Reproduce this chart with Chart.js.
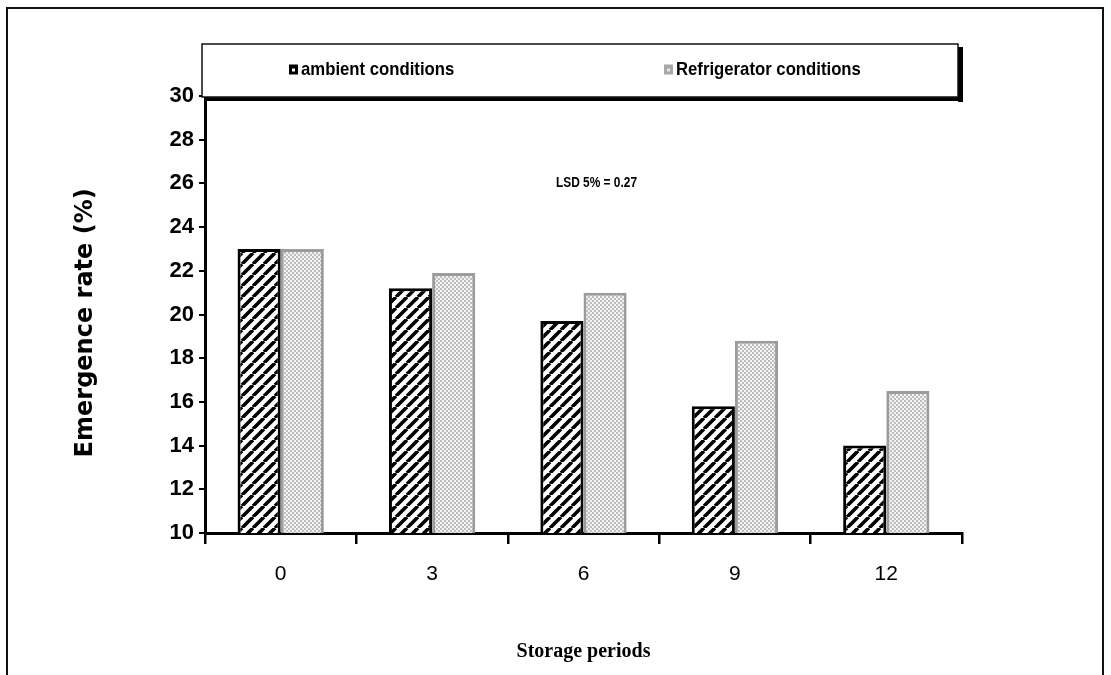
<!DOCTYPE html>
<html>
<head>
<meta charset="utf-8">
<script src="https://cdn.jsdelivr.net/npm/chart.js@4.4.1/dist/chart.umd.min.js"></script>
<style>
  html, body { margin: 0; padding: 0; background: #ffffff; }
  #wrap { width: 1111px; height: 675px; position: relative; }
</style>
</head>
<body>
<div id="wrap"><canvas id="c" width="1111" height="675"></canvas></div>
<script>
// ---- data ----
const categories = ['0', '3', '6', '9', '12'];
const ambientValues = [23.0, 21.2, 19.7, 15.8, 14.0];
const refrigeratorValues = [23.0, 21.9, 21.0, 18.8, 16.5];
const seriesNames = ['ambient conditions', 'Refrigerator conditions'];
const yTicks = [10, 12, 14, 16, 18, 20, 22, 24, 26, 28, 30];
const yTitle = 'Emergence rate (%)  ';
const xTitle = 'Storage periods';
const lsdNote = 'LSD 5% = 0.27';
const lsdLevel = 26;

// ---- patterns ----
function hatchPattern() {
  const s = 11;
  const c = document.createElement('canvas');
  c.width = s; c.height = s;
  const g = c.getContext('2d');
  g.fillStyle = '#ffffff';
  g.fillRect(0, 0, s, s);
  g.strokeStyle = '#000000';
  g.lineWidth = 3.6;
  g.beginPath();
  for (let k = -1; k <= 1; k++) {
    g.moveTo(k * s, s);
    g.lineTo(k * s + s, 0);
  }
  g.stroke();
  return g.createPattern(c, 'repeat');
}
function checkerPattern() {
  const c = document.createElement('canvas');
  c.width = 4; c.height = 4;
  const g = c.getContext('2d');
  g.fillStyle = '#f4f4f4';
  g.fillRect(0, 0, 4, 4);
  g.fillStyle = '#bdbdbd';
  g.fillRect(0, 0, 2, 2);
  g.fillRect(2, 2, 2, 2);
  return g.createPattern(c, 'repeat');
}
const hatch = hatchPattern();
const checker = checkerPattern();

// draw text horizontally condensed (narrow face look)
function narrowText(ctx, text, x, y, sx, align) {
  ctx.save();
  ctx.translate(x, y);
  ctx.scale(sx, 1);
  ctx.textAlign = align;
  ctx.fillText(text, 0, 0);
  ctx.restore();
}

// ---- plugins ----
const framePlugin = {
  id: 'frame',
  beforeDraw(chart) {
    const ctx = chart.ctx;
    ctx.save();
    ctx.fillStyle = '#ffffff';
    ctx.fillRect(0, 0, chart.width, chart.height);
    ctx.strokeStyle = '#111111';
    ctx.lineWidth = 2;
    ctx.strokeRect(7, 8, chart.width - 15, chart.height + 20);
    ctx.restore();
  }
};

const legendBoxPlugin = {
  id: 'legendBox',
  afterDraw(chart) {
    const ctx = chart.ctx;
    const a = chart.chartArea;
    const left = a.left - 3, right = a.right - 4, top = a.top - 52, bottom = a.top + 1;
    ctx.save();
    // shadow
    ctx.fillStyle = '#000000';
    ctx.fillRect(right, top + 3, 5, bottom - top + 2);
    ctx.fillRect(left + 3, bottom, right - left + 2, 4);
    // box
    ctx.fillStyle = '#ffffff';
    ctx.fillRect(left, top, right - left, bottom - top);
    ctx.strokeStyle = '#111111';
    ctx.lineWidth = 1.5;
    ctx.strokeRect(left, top, right - left, bottom - top);
    // items
    const cy = (top + bottom) / 2 - 1;
    const ds = chart.data.datasets;
    const items = [
      { x: a.left + 84, ds: ds[0], solid: '#000000', dot: '#ffffff' },
      { x: a.left + 459, ds: ds[1], solid: '#a8a8a8', dot: '#e8e8e8' }
    ];
    ctx.font = 'bold 19px "Liberation Sans", Arial, sans-serif';
    ctx.textBaseline = 'middle';
    items.forEach(it => {
      ctx.fillStyle = it.solid;
      ctx.fillRect(it.x, cy - 5, 9, 10);
      ctx.fillStyle = it.dot;
      ctx.fillRect(it.x + 3, cy - 1, 3, 3);
      ctx.fillStyle = '#000000';
      narrowText(ctx, it.ds.label, it.x + 12, cy, 0.88, 'left');
    });
    ctx.restore();
  }
};

const notePlugin = {
  id: 'note',
  afterDatasetsDraw(chart) {
    const ctx = chart.ctx;
    const y = chart.scales.y.getPixelForValue(lsdLevel);
    const a = chart.chartArea;
    ctx.save();
    ctx.font = 'bold 14px "Liberation Sans", Arial, sans-serif';
    ctx.fillStyle = '#000000';
    ctx.textBaseline = 'middle';
    narrowText(ctx, lsdNote, (a.left + a.right) / 2 + 13, y, 0.85, 'center');
    ctx.restore();
  }
};

new Chart(document.getElementById('c'), {
  type: 'bar',
  data: {
    labels: categories,
    datasets: [
      {
        label: seriesNames[0],
        data: ambientValues,
        backgroundColor: hatch,
        borderColor: '#000000',
        borderWidth: 3,
        borderSkipped: 'start'
      },
      {
        label: seriesNames[1],
        data: refrigeratorValues,
        backgroundColor: checker,
        borderColor: '#9c9c9c',
        borderWidth: 3,
        borderSkipped: 'start'
      }
    ]
  },
  options: {
    responsive: false,
    animation: false,
    devicePixelRatio: 1,
    layout: { padding: { top: 96, right: 149, bottom: 0, left: 0 } },
    datasets: { bar: { categoryPercentage: 0.57, barPercentage: 1.0 } },
    plugins: {
      legend: { display: false },
      tooltip: { enabled: false },
      title: { display: false }
    },
    scales: {
      x: {
        offset: true,
        grid: { display: true, offset: true, drawOnChartArea: false, drawTicks: true, tickLength: 11, color: '#000000', lineWidth: 2.5 },
        border: { display: true, color: '#000000', width: 3 },
        ticks: {
          color: '#000000',
          padding: 18,
          font: { family: '"Liberation Sans", Arial, sans-serif', size: 21 }
        },
        title: {
          display: true,
          text: xTitle,
          color: '#000000',
          font: { family: '"Liberation Serif", "Times New Roman", serif', size: 20, weight: 'bold' },
          padding: { top: 0, bottom: 11 }
        },
        afterFit(scale) { scale.height = 142; }
      },
      y: {
        min: 10,
        max: 30,
        afterBuildTicks(scale) { scale.ticks = yTicks.map(v => ({ value: v })); },
        grid: { display: true, drawOnChartArea: false, drawTicks: true, tickLength: 6, color: '#000000', lineWidth: 2 },
        border: { display: true, color: '#000000', width: 3 },
        ticks: {
          color: '#000000',
          padding: 5,
          font: { family: '"Liberation Sans", Arial, sans-serif', size: 22, weight: 'bold' }
        },
        title: {
          display: true,
          text: yTitle,
          color: '#000000',
          font: { family: '"DejaVu Sans", sans-serif', size: 24, weight: 'bold' },
          padding: { top: 71, bottom: 0 }
        },
        afterFit(scale) { scale.width = 205; }
      }
    }
  },
  plugins: [framePlugin, legendBoxPlugin, notePlugin]
});
</script>
</body>
</html>
